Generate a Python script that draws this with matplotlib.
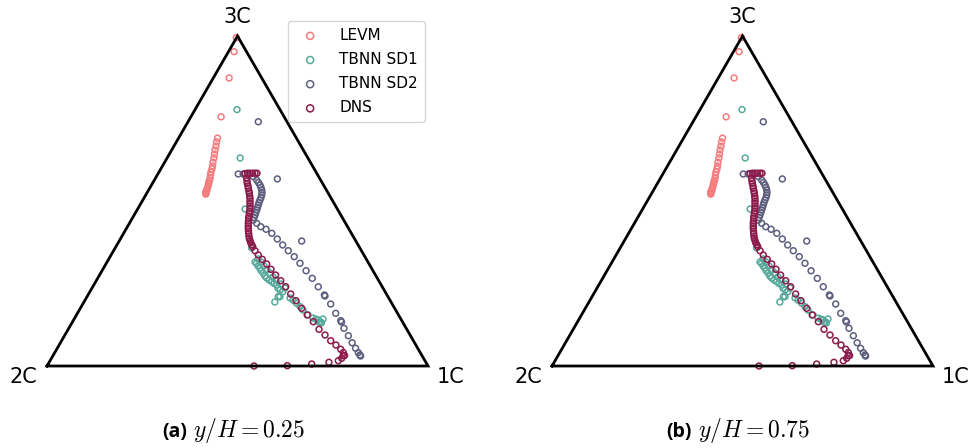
import matplotlib.pyplot as plt
import numpy as np

plt.rcParams['mathtext.fontset'] = 'cm'

# Barycentric map coordinates: 2C=(0,0), 1C=(1,0), 3C=(0.5, sqrt(3)/2)
levm_x = [0.497, 0.491, 0.478, 0.457, 0.4475, 0.445, 0.4436, 0.441, 0.4396, 0.438,
          0.4357, 0.4344, 0.433, 0.4304, 0.429, 0.428, 0.4265, 0.425, 0.424, 0.4226,
          0.421, 0.420, 0.4186, 0.417, 0.417, 0.4168]
levm_y = [0.862, 0.825, 0.756, 0.654, 0.598, 0.588, 0.577, 0.567, 0.556, 0.546,
          0.535, 0.525, 0.517, 0.509, 0.501, 0.493, 0.488, 0.483, 0.478, 0.472,
          0.467, 0.463, 0.459, 0.457, 0.454, 0.451]

sd1_x = [0.4987, 0.507, 0.520, 0.537, 0.546, 0.550, 0.554, 0.559, 0.5617, 0.567,
         0.572, 0.5766, 0.583, 0.590, 0.596, 0.603, 0.606, 0.6115, 0.619, 0.607,
         0.598, 0.6115, 0.638, 0.6457, 0.655, 0.664, 0.672, 0.685, 0.698, 0.706,
         0.711, 0.718, 0.720, 0.554, 0.5617, 0.5696, 0.5774, 0.585, 0.593, 0.601,
         0.614, 0.6247, 0.7244, 0.714]
sd1_y = [0.673, 0.546, 0.412, 0.310, 0.273, 0.2695, 0.2625, 0.257, 0.2507, 0.244,
         0.236, 0.231, 0.2257, 0.2213, 0.2165, 0.2126, 0.2047, 0.1995, 0.195, 0.182,
         0.168, 0.182, 0.1785, 0.173, 0.165, 0.156, 0.147, 0.134, 0.126, 0.123,
         0.121, 0.116, 0.113, 0.281, 0.273, 0.2625, 0.252, 0.244, 0.2336, 0.2257,
         0.2152, 0.2047, 0.1234, 0.1155]

sd2_x = [0.5546, 0.502, 0.515, 0.5276, 0.5415, 0.5504, 0.555, 0.559, 0.5617, 0.5635,
         0.5643, 0.5635, 0.5617, 0.559, 0.5564, 0.5546, 0.5525, 0.5504, 0.548, 0.546,
         0.5433, 0.5415, 0.5504, 0.561, 0.575, 0.590, 0.6045, 0.6186, 0.6333, 0.649,
         0.664, 0.680, 0.6963, 0.712, 0.728, 0.7297, 0.7446, 0.7577, 0.771, 0.773,
         0.7795, 0.791, 0.801, 0.810, 0.817, 0.8215, 0.823, 0.6045, 0.6685]
sd2_y = [0.641, 0.504, 0.504, 0.5026, 0.497, 0.488, 0.4816, 0.475, 0.4685, 0.462,
         0.4554, 0.449, 0.442, 0.4357, 0.429, 0.4226, 0.416, 0.4094, 0.403, 0.3963,
         0.3898, 0.383, 0.3745, 0.3656, 0.3588, 0.3483, 0.3333, 0.3176, 0.3026, 0.287,
         0.2696, 0.250, 0.230, 0.208, 0.1864, 0.1837, 0.1627, 0.1383, 0.119, 0.1155,
         0.099, 0.0795, 0.061, 0.0465, 0.035, 0.0289, 0.0262, 0.491, 0.328]

dns_x = [0.5512, 0.546, 0.5394, 0.5328, 0.5262, 0.520, 0.524, 0.525, 0.5257, 0.5276,
         0.5283, 0.530, 0.531, 0.532, 0.5328, 0.5328, 0.5328, 0.5328, 0.5328, 0.532,
         0.531, 0.530, 0.5294, 0.5289, 0.5283, 0.5283, 0.5283, 0.5289, 0.5294, 0.530,
         0.531, 0.5328, 0.5346, 0.5373, 0.540, 0.546, 0.5546, 0.565, 0.5766, 0.588,
         0.600, 0.6134, 0.6265, 0.6396, 0.6535, 0.6685, 0.683, 0.699, 0.714, 0.7297,
         0.7446, 0.7585, 0.771, 0.7777, 0.781, 0.7777, 0.7735, 0.7646, 0.740, 0.6947,
         0.6307, 0.5433]
dns_y = [0.506, 0.506, 0.506, 0.506, 0.506, 0.505, 0.4927, 0.4856, 0.4795, 0.4724,
         0.4664, 0.4593, 0.4533, 0.446, 0.440, 0.433, 0.427, 0.420, 0.414, 0.4068,
         0.4008, 0.3937, 0.3877, 0.3806, 0.3745, 0.3675, 0.3614, 0.3543, 0.3483, 0.3412,
         0.3352, 0.3294, 0.3236, 0.3184, 0.3131, 0.3026, 0.2913, 0.280, 0.2677, 0.2538,
         0.2388, 0.2239, 0.2081, 0.189, 0.1714, 0.1514, 0.1339, 0.1163, 0.0963, 0.0814,
         0.0664, 0.0551, 0.0438, 0.0354, 0.0276, 0.027, 0.0202, 0.0139, 0.0097, 0.0052,
         0.0008, 0.0]

series = [
    ('LEVM', levm_x, levm_y, '#F47B7E'),
    ('TBNN SD1', sd1_x, sd1_y, '#57A99B'),
    ('TBNN SD2', sd2_x, sd2_y, '#5E5F7E'),
    ('DNS', dns_x, dns_y, '#8C1A4B'),
]
panels = [('(a)', '0.25'), ('(b)', '0.75')]

corners_x = [0.0, 1.0, 0.5, 0.0]
corners_y = [0.0, 0.0, np.sqrt(3) / 2, 0.0]

fig = plt.figure(figsize=(9.73, 4.48), dpi=100)

for i, (tag, yh) in enumerate(panels):
    ax = fig.add_axes([i * 505 / 973, 0, 475 / 973, 1])
    ax.set_xlim(-0.1234, 1.1234)
    ax.set_ylim(-0.2152, 0.9606)
    ax.axis('off')

    for name, xs, ys, c in series:
        ax.scatter(xs, ys, s=18, facecolors='none', edgecolors=c,
                   linewidths=1.1, label=name, zorder=2)

    ax.plot(corners_x, corners_y, color='black', lw=2.0, zorder=3,
            solid_joinstyle='miter')

    ax.text(0.5, 0.915, '3C', fontsize=15, ha='center', va='center')
    ax.text(-0.062, -0.03, '2C', fontsize=15, ha='center', va='center')
    ax.text(1.058, -0.03, '1C', fontsize=15, ha='center', va='center')

    ax.text(187 / 475, 0.024, tag, transform=ax.transAxes, fontsize=14,
            fontweight='bold', family='Open Sans', ha='right', va='baseline')
    ax.text(193 / 475, 0.024, r'$y/H = %s$' % yh, transform=ax.transAxes,
            fontsize=17, ha='left', va='baseline')

    if i == 0:
        ax.legend(loc='upper left', bbox_to_anchor=(288 / 973, 1 - 21 / 448),
                  bbox_transform=fig.transFigure, borderaxespad=0,
                  fontsize=11, markerscale=1.2, handletextpad=0.9,
                  borderpad=0.45, labelspacing=0.6)

fig.savefig('out.png', dpi=100)
